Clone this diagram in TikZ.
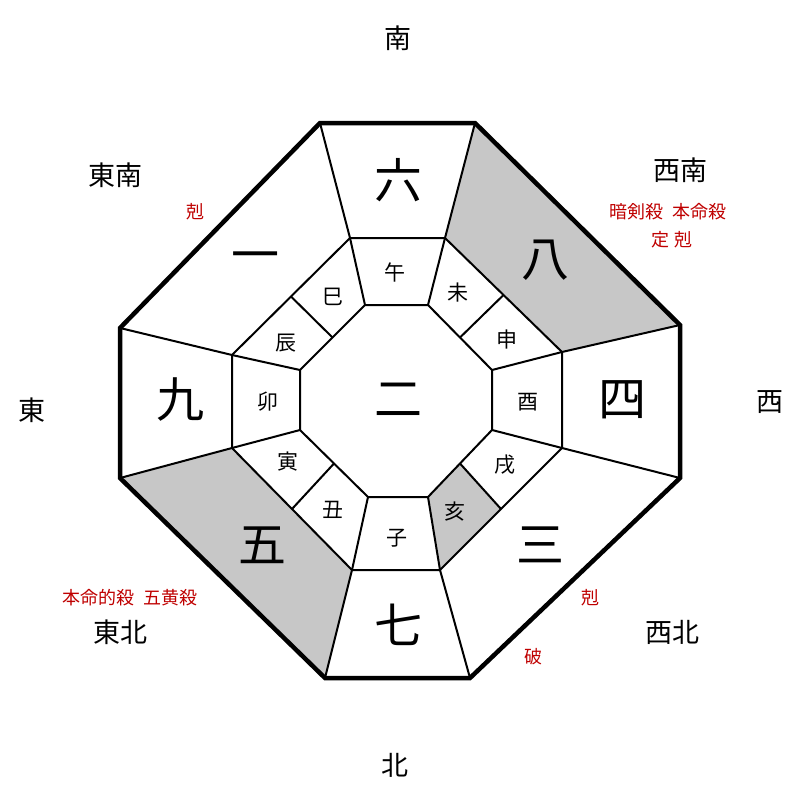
\documentclass[tikz,border=0pt]{standalone}
\usepackage{fontspec}
\newfontfamily\cjk{Noto Sans CJK JP}
\usetikzlibrary{calc}
\tikzset{
  big/.style   = {font=\cjk\fontsize{48}{48}\selectfont},
  small/.style = {font=\cjk\fontsize{21}{21}\selectfont},
  dir/.style   = {font=\cjk\fontsize{27}{27}\selectfont},
  note/.style  = {font=\cjk\fontsize{18}{20}\selectfont, text=red!75!black, align=center},
  ring/.style  = {line width=2pt},
  shade/.style = {fill=black!22}
}
\begin{document}
\begin{tikzpicture}[x=1pt,y=-1pt]
  \useasboundingbox (0,0) rectangle (800,800);
  % octagon corners
  \coordinate (o1) at (320,123); \coordinate (o2) at (475,123);
  \coordinate (o3) at (680,325); \coordinate (o4) at (680,478);
  \coordinate (o5) at (470,678); \coordinate (o6) at (325,678);
  \coordinate (o7) at (120,478); \coordinate (o8) at (120,328);
  \coordinate (m1) at (350,238); \coordinate (m2) at (445,238);
  \coordinate (m3) at (562,352); \coordinate (m4) at (562,448);
  \coordinate (m5) at (440,570); \coordinate (m6) at (352,570);
  \coordinate (m7) at (232,448); \coordinate (m8) at (232,355);
  \coordinate (i1) at (365,305); \coordinate (i2) at (428,305);
  \coordinate (i3) at (492,370); \coordinate (i4) at (492,430);
  \coordinate (i5) at (428,497); \coordinate (i6) at (368,497);
  \coordinate (i7) at (300,430); \coordinate (i8) at (300,370);
  % shaded cells
  \fill[shade] (o2) -- (o3) -- (m3) -- (m2) -- cycle;
  \fill[shade] (o7) -- (o6) -- (m6) -- (m7) -- cycle;
  \fill[shade] ($(m4)!0.5!(m5)$) -- (m5) -- (i5) -- ($(i4)!0.5!(i5)$) -- cycle;
  % rings
  \draw[ring] (m1) -- (m2) -- (m3) -- (m4) -- (m5) -- (m6) -- (m7) -- (m8) -- cycle;
  \draw[ring] (i1) -- (i2) -- (i3) -- (i4) -- (i5) -- (i6) -- (i7) -- (i8) -- cycle;
  \foreach \k in {1,...,8} {
    \draw[ring] (o\k) -- (m\k);
    \draw[ring] (m\k) -- (i\k);
  }
  \foreach \a/\b in {2/3,4/5,6/7,8/1}
    \draw[ring] ($(m\a)!0.5!(m\b)$) -- ($(i\a)!0.5!(i\b)$);
  \draw[line width=4.5pt, line join=miter]
    (o1) -- (o2) -- (o3) -- (o4) -- (o5) -- (o6) -- (o7) -- (o8) -- cycle;
  % numbers
  \node[big] (n6) at (398,180) {六};
  \node[big] (n8) at (545,260) {八};
  \node[big] (n4) at (622,400) {四};
  \node[big] (n3) at (540,545) {三};
  \node[big] (n7) at (398,625) {七};
  \node[big] (n5) at (262,545) {五};
  \node[big] (n9) at (180,400) {九};
  \node[big] (n1) at (255,262) {一};
  \node[big] (n2) at (398,400) {二};
  % branches
  \node[small] (wu)   at (395,272) {午};
  \node[small] (wei)  at (458,293) {未};
  \node[small] (shen) at (507,340) {申};
  \node[small] (you)  at (528,402) {酉};
  \node[small] (xu)   at (505,465) {戌};
  \node[small] (hai)  at (455,512) {亥};
  \node[small] (zi)   at (397,538) {子};
  \node[small] (chou) at (333,510) {丑};
  \node[small] (yin)  at (288,462) {寅};
  \node[small] (mao)  at (268,402) {卯};
  \node[small] (chen) at (286,343) {辰};
  \node[small] (si)   at (333,297) {巳};
  % directions
  \node[dir] (s)  at (398,38)  {南};
  \node[dir] (se) at (115,175) {東南};
  \node[dir] (sw) at (680,170) {西南};
  \node[dir] (e)  at (32,410)  {東};
  \node[dir] (w)  at (770,402) {西};
  \node[dir] (ne) at (120,632) {東北};
  \node[dir] (nw) at (672,632) {西北};
  \node[dir] (n)  at (395,765) {北};
  % notes
  \node[note] (k1) at (195,212) {剋};
  \node[note] (k2) at (668,212) {暗剣殺\ \ 本命殺};
  \node[note] (k3) at (672,240) {定\ 剋};
  \node[note] (k4) at (130,598) {本命的殺\ \ 五黄殺};
  \node[note] (k5) at (590,598) {剋};
  \node[note] (k6) at (533,657) {破};
\end{tikzpicture}
\end{document}
